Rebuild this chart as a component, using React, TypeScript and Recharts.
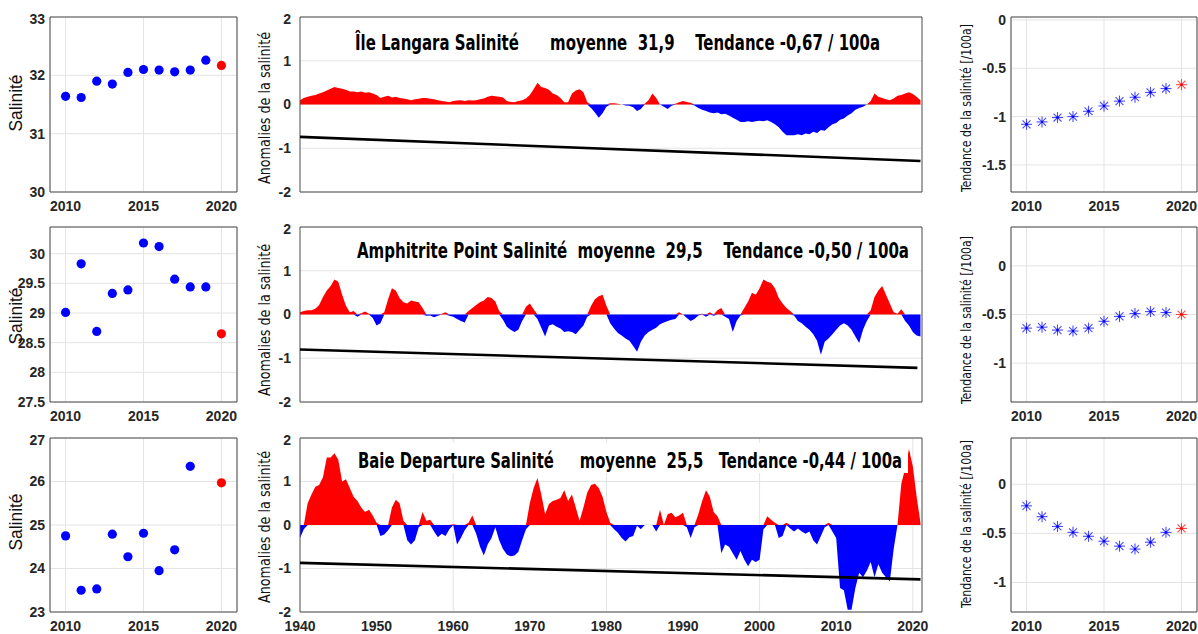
import React from 'react';
import {
  ComposedChart, ScatterChart, Scatter, Area, Line, XAxis, YAxis,
  CartesianGrid, ReferenceArea,
} from 'recharts';

// stations, top to bottom
const stationNames = ['Île Langara', 'Amphitrite Point', 'Baie Departure'];
const stationMeans = ['31,9', '29,5', '25,5'];
const stationTrends = ['-0,67', '-0,50', '-0,44'];

// annual values 2010-2019 (blue) + 2020 (red)
const annualYears = [2010, 2011, 2012, 2013, 2014, 2015, 2016, 2017, 2018, 2019];
const latestYear = 2020;

const langaraSalinity = [31.64, 31.62, 31.9, 31.85, 32.05, 32.1, 32.09, 32.06, 32.09, 32.26];
const langaraSalinity2020 = 32.17;
const amphitriteSalinity = [29.01, 29.83, 28.69, 29.33, 29.39, 30.18, 30.12, 29.57, 29.44, 29.44];
const amphitriteSalinity2020 = 28.65;
const departureSalinity = [24.75, 23.5, 23.53, 24.79, 24.27, 24.81, 23.95, 24.43, 26.35, null];
const departureSalinity2020 = 25.97;

const langaraTrend = [-1.08, -1.055, -1.01, -1.0, -0.945, -0.89, -0.84, -0.8, -0.75, -0.71];
const langaraTrend2020 = -0.67;
const amphitriteTrend = [-0.64, -0.63, -0.66, -0.67, -0.64, -0.57, -0.52, -0.49, -0.47, -0.48];
const amphitriteTrend2020 = -0.5;
const departureTrend = [-0.22, -0.33, -0.43, -0.49, -0.53, -0.58, -0.63, -0.66, -0.59, -0.49];
const departureTrend2020 = -0.45;

// anomalies, half-year samples starting 1940.0
const anomalyStart = 1940;
const anomalyStep = 0.5;

const langaraAnomaly = [
  0.10, 0.15, 0.18, 0.20, 0.22, 0.25, 0.28, 0.32, 0.36, 0.40,
  0.38, 0.36, 0.34, 0.30, 0.30, 0.28, 0.30, 0.27, 0.28, 0.25,
  0.22, 0.15, 0.18, 0.20, 0.16, 0.18, 0.15, 0.14, 0.12, 0.10,
  0.12, 0.13, 0.15, 0.15, 0.13, 0.12, 0.10, 0.08, 0.07, 0.05,
  0.08, 0.09, 0.10, 0.08, 0.10, 0.09, 0.10, 0.12, 0.14, 0.18,
  0.20, 0.19, 0.18, 0.16, 0.08, 0.06, 0.05, 0.08, 0.10, 0.14,
  0.22, 0.35, 0.50, 0.40, 0.38, 0.34, 0.25, 0.22, 0.15, 0.05,
  0.05, 0.25, 0.32, 0.35, 0.28, 0.05, -0.08, -0.18, -0.30, -0.20,
  -0.05, 0.03, 0.03, 0.02, 0.00, -0.02, -0.03, -0.06, -0.15, -0.10,
  0.02, 0.10, 0.25, 0.15, 0.00, -0.05, -0.10, -0.03, 0.02, 0.05,
  0.08, 0.06, 0.04, -0.02, -0.08, -0.12, -0.15, -0.18, -0.20, -0.18,
  -0.22, -0.21, -0.25, -0.30, -0.35, -0.40, -0.40, -0.38, -0.40, -0.38,
  -0.37, -0.38, -0.36, -0.40, -0.45, -0.52, -0.62, -0.70, -0.70, -0.70,
  -0.68, -0.70, -0.66, -0.68, -0.62, -0.65, -0.58, -0.60, -0.52, -0.45,
  -0.42, -0.35, -0.32, -0.25, -0.20, -0.12, -0.08, -0.05, 0.00, 0.08,
  0.25, 0.18, 0.15, 0.12, 0.10, 0.14, 0.20, 0.22, 0.25, 0.28,
  0.24, 0.18, 0.10,
];

const amphitriteAnomaly = [
  0.05, 0.08, 0.10, 0.10, 0.13, 0.22, 0.40, 0.55, 0.65, 0.80,
  0.75, 0.45, 0.20, 0.05, 0.08, -0.05, 0.03, 0.07, 0.02, -0.08,
  -0.25, -0.20, 0.05, 0.35, 0.60, 0.55, 0.38, 0.28, 0.25, 0.32,
  0.30, 0.28, 0.15, -0.03, -0.02, -0.06, -0.03, 0.02, 0.05, -0.03,
  -0.05, -0.10, -0.15, -0.18, 0.08, 0.15, 0.22, 0.28, 0.32, 0.40,
  0.38, 0.30, 0.08, -0.12, -0.28, -0.35, -0.40, -0.35, -0.15, 0.18,
  0.25, 0.12, -0.10, -0.30, -0.50, -0.25, -0.22, -0.28, -0.32, -0.40,
  -0.38, -0.40, -0.45, -0.35, -0.25, -0.05, 0.20, 0.35, 0.42, 0.45,
  0.20, -0.20, -0.32, -0.42, -0.48, -0.55, -0.60, -0.72, -0.85, -0.62,
  -0.48, -0.40, -0.35, -0.30, -0.22, -0.18, -0.15, -0.12, -0.10, 0.05,
  0.00, -0.08, -0.15, -0.10, -0.02, 0.02, -0.05, 0.05, -0.03, 0.10,
  0.15, -0.05, -0.10, -0.40, -0.15, -0.02, 0.15, 0.30, 0.50, 0.45,
  0.60, 0.80, 0.75, 0.72, 0.60, 0.38, 0.25, 0.15, 0.08, -0.02,
  -0.15, -0.20, -0.28, -0.35, -0.45, -0.60, -0.92, -0.62, -0.55, -0.45,
  -0.35, -0.25, -0.20, -0.25, -0.35, -0.50, -0.65, -0.35, -0.15, 0.10,
  0.40, 0.55, 0.65, 0.45, 0.25, 0.05, 0.02, 0.12, -0.15, -0.25,
  -0.40, -0.48, -0.50,
];

const departureAnomaly = [
  -0.30, -0.10, 0.50, 0.70, 0.88, 0.92, 1.10, 1.55, 1.55, 1.65,
  1.50, 1.00, 1.05, 0.85, 0.65, 0.55, 0.40, 0.30, 0.35, 0.22,
  0.05, -0.25, -0.22, -0.12, 0.40, 0.58, 0.50, 0.10, -0.35, -0.45,
  -0.35, -0.05, 0.30, 0.10, 0.12, -0.15, -0.28, -0.20, -0.25, -0.10,
  0.02, -0.45, -0.30, -0.12, 0.05, 0.22, -0.20, -0.50, -0.70, -0.45,
  -0.30, -0.05, -0.35, -0.55, -0.68, -0.72, -0.70, -0.62, -0.35, -0.10,
  0.50, 0.85, 1.08, 0.70, 0.25, 0.48, 0.55, 0.58, 0.62, 0.80,
  0.55, 0.70, 0.40, 0.10, 0.40, 0.75, 0.92, 0.95, 0.85, 0.65,
  0.30, 0.05, -0.10, -0.18, -0.30, -0.38, -0.28, -0.25, -0.02, -0.10,
  0.00, 0.00, 0.00, -0.15, 0.35, 0.00, 0.25, 0.28, 0.18, 0.22,
  0.28, -0.05, -0.30, -0.05, 0.25, 0.55, 0.80, 0.65, 0.30, 0.20,
  -0.65, -0.45, -0.50, -0.65, -0.80, -0.60, -0.80, -0.95, -0.80, -0.85,
  -0.80, -0.10, 0.20, 0.12, 0.05, -0.30, -0.25, 0.05, -0.08, -0.15,
  -0.08, -0.15, -0.20, -0.15, -0.35, -0.45, -0.25, -0.05, 0.05, -0.15,
  -0.30, -1.45, -1.50, -1.95, -1.95, -1.45, -1.10, -1.20, -1.05, -0.85,
  -1.20, -0.90, -1.10, -1.20, -1.30, -0.55, 0.00, 0.95, 1.30, 1.75,
  1.35, 0.65, 0.05,
];

// linear trend lines (start / end)
const langaraTrendLine = [-0.74, -1.29];
const langaraTrendYears = [1940, 2021];
const amphitriteTrendLine = [-0.8, -1.22];
const amphitriteTrendYears = [1940, 2020.6];
const departureTrendLine = [-0.87, -1.25];
const departureTrendYears = [1940, 2021];

const decadeTicks = [1940, 1950, 1960, 1970, 1980, 1990, 2000, 2010, 2020];
const twentyYearTicks = [1940, 1960, 1980, 2000, 2020];
const anomalyDomain = [1940, 2021.2];

// ---- styling / layout ----
const PAD_L = 50;
const PAD_T = 6;
const PAD_B = 26;
const GRID = '#e4e4e4';
const BOX = '#4a4a4a';
const TICK = { fontSize: 14, fontWeight: 700, fill: '#262626', fontFamily: "'Liberation Sans', Arial, sans-serif" };
const NARROW = "'Liberation Sans Narrow', 'DejaVu Sans Condensed', 'Liberation Sans', sans-serif";

const rowTops = [17, 227, 438];
const rowHeights = [175, 175, 174];

const toPoints = (vals: (number | null)[]) =>
  annualYears.map((year, i) => ({ year, value: vals[i] })).filter(p => p.value !== null);

const toAnomaly = (vals: number[]) =>
  vals.map((v, i) => ({ year: anomalyStart + i * anomalyStep, pos: v > 0 ? v : 0, neg: v < 0 ? v : 0 }));

const toLine = (years: number[], vals: number[]) => years.map((year, i) => ({ year, value: vals[i] }));

const dot = (color: string) => (p: any) => <circle cx={p.cx} cy={p.cy} r={4.6} fill={color} />;

const star = (color: string) => (p: any) => {
  const r = 5.5;
  const d = r * 0.72;
  const { cx, cy } = p;
  return (
    <g stroke={color} strokeWidth={1.1} strokeOpacity={0.7}>
      <line x1={cx - r} y1={cy} x2={cx + r} y2={cy} />
      <line x1={cx} y1={cy - r} x2={cx} y2={cy + r} />
      <line x1={cx - d} y1={cy - d} x2={cx + d} y2={cy + d} />
      <line x1={cx - d} y1={cy + d} x2={cx + d} y2={cy - d} />
      <circle cx={cx} cy={cy} r={1.2} fill={color} stroke="none" />
    </g>
  );
};

function AnnualPanel({ x, y, w, h, points, latest, domain, ticks, shape }: any) {
  const padR = 4;
  return (
    <div style={{ position: 'absolute', left: x - PAD_L, top: y - PAD_T }}>
      <ScatterChart width={w + PAD_L + padR} height={h + PAD_T + PAD_B}
        margin={{ top: PAD_T, right: padR, bottom: 0, left: 0 }}>
        <CartesianGrid stroke={GRID} />
        <XAxis type="number" dataKey="year" domain={[2009, 2021]} ticks={[2010, 2015, 2020]}
          height={PAD_B} tickSize={0} tickMargin={9} axisLine={false} tickLine={false} tick={TICK} />
        <YAxis type="number" dataKey="value" domain={domain} ticks={ticks} width={PAD_L}
          tickSize={0} tickMargin={5} axisLine={false} tickLine={false} tick={TICK} />
        <ReferenceArea x1={2009} x2={2021} y1={domain[0]} y2={domain[1]} fill="none" stroke={BOX} />
        <Scatter data={points} shape={shape('#0000ff')} isAnimationActive={false} />
        <Scatter data={latest} shape={shape('#ff0000')} isAnimationActive={false} />
      </ScatterChart>
    </div>
  );
}

function AnomalyPanel({ x, y, w, h, data, trend, labelled }: any) {
  const padR = 20;
  return (
    <div style={{ position: 'absolute', left: x - PAD_L, top: y - PAD_T }}>
      <ComposedChart data={data} width={w + PAD_L + padR} height={h + PAD_T + PAD_B}
        margin={{ top: PAD_T, right: padR, bottom: 0, left: 0 }}>
        <CartesianGrid stroke={GRID} verticalValues={[1960, 1980, 2000, 2020]} />
        <XAxis type="number" dataKey="year" domain={anomalyDomain}
          ticks={labelled ? decadeTicks : twentyYearTicks} tick={labelled ? TICK : false}
          height={PAD_B} tickSize={0} tickMargin={9} axisLine={false} tickLine={false} />
        <YAxis type="number" domain={[-2, 2]} ticks={[-2, -1, 0, 1, 2]} width={PAD_L}
          tickSize={0} tickMargin={9} axisLine={false} tickLine={false} tick={TICK} />
        <Area type="linear" dataKey="pos" fill="#ff0000" fillOpacity={1} stroke="none"
          baseValue={0} isAnimationActive={false} />
        <Area type="linear" dataKey="neg" fill="#0000ff" fillOpacity={1} stroke="none"
          baseValue={0} isAnimationActive={false} />
        <Line data={trend} dataKey="value" stroke="#000" strokeWidth={2.6} dot={false}
          isAnimationActive={false} />
        <ReferenceArea x1={anomalyDomain[0]} x2={anomalyDomain[1]} y1={-2} y2={2} fill="none" stroke={BOX} />
      </ComposedChart>
    </div>
  );
}

const rows = [
  {
    salinity: toPoints(langaraSalinity), salinity2020: [{ year: latestYear, value: langaraSalinity2020 }],
    salDomain: [30, 33], salTicks: [30, 31, 32, 33],
    anomaly: toAnomaly(langaraAnomaly), trendLine: toLine(langaraTrendYears, langaraTrendLine),
    trend: toPoints(langaraTrend), trend2020: [{ year: latestYear, value: langaraTrend2020 }],
    trDomain: [-1.78, 0.03], trTicks: [-1.5, -1, -0.5, 0],
  },
  {
    salinity: toPoints(amphitriteSalinity), salinity2020: [{ year: latestYear, value: amphitriteSalinity2020 }],
    salDomain: [27.5, 30.45], salTicks: [27.5, 28, 28.5, 29, 29.5, 30],
    anomaly: toAnomaly(amphitriteAnomaly), trendLine: toLine(amphitriteTrendYears, amphitriteTrendLine),
    trend: toPoints(amphitriteTrend), trend2020: [{ year: latestYear, value: amphitriteTrend2020 }],
    trDomain: [-1.4, 0.4], trTicks: [-1, -0.5, 0],
  },
  {
    salinity: toPoints(departureSalinity), salinity2020: [{ year: latestYear, value: departureSalinity2020 }],
    salDomain: [23, 27], salTicks: [23, 24, 25, 26, 27],
    anomaly: toAnomaly(departureAnomaly), trendLine: toLine(departureTrendYears, departureTrendLine),
    trend: toPoints(departureTrend), trend2020: [{ year: latestYear, value: departureTrend2020 }],
    trDomain: [-1.3, 0.47], trTicks: [-1, -0.5, 0],
  },
];

// title boxes, title start x / length, gaps (in spaces) between the three parts
const titleBoxes = [[350, 25, 535, 30], [353, 237, 558, 28], [353, 443, 555, 30]];
const titleBaselines = [50, 258, 468];
const titleSpans = [[355, 525], [357, 552], [358, 544]];
const titleGaps = [[6, 4], [2, 4], [5, 3]];
const labelCenters = [
  [103, 108, 108],
  [316, 320, 320],
  [522, 527, 524],
];

function VText({ x, y, len, size, family, children }: any) {
  return (
    <text transform={`translate(${x},${y}) rotate(-90)`} textAnchor="middle" dy="0.35em"
      fontSize={size} fontFamily={family} fill="#111" textLength={len} lengthAdjust="spacingAndGlyphs">
      {children}
    </text>
  );
}

export default function App() {
  return (
    <div style={{
      position: 'absolute', left: 0, top: 0, width: 1198, height: 634, overflow: 'hidden',
      background: '#fff', fontFamily: "'Liberation Sans', Arial, sans-serif",
    }}>
      {rows.map((r, i) => (
        <React.Fragment key={i}>
          <AnnualPanel x={50} y={rowTops[i]} w={187} h={rowHeights[i]} points={r.salinity}
            latest={r.salinity2020} domain={r.salDomain} ticks={r.salTicks} shape={dot} />
          <AnomalyPanel x={300} y={rowTops[i]} w={622} h={rowHeights[i]} data={r.anomaly}
            trend={r.trendLine} labelled={i === 2} />
          <AnnualPanel x={1011} y={rowTops[i]} w={186} h={rowHeights[i]} points={r.trend}
            latest={r.trend2020} domain={r.trDomain} ticks={r.trTicks} shape={star} />
        </React.Fragment>
      ))}
      <svg width={1198} height={634} style={{ position: 'absolute', left: 0, top: 0, pointerEvents: 'none' }}>
        {rows.map((_, i) => {
          const [bx, by, bw, bh] = titleBoxes[i];
          const [tx, tlen] = titleSpans[i];
          const [g1, g2] = titleGaps[i];
          const title = `${stationNames[i]} Salinité${' '.repeat(g1)}moyenne  ${stationMeans[i]}${' '.repeat(g2)}Tendance ${stationTrends[i]} / 100a`;
          return (
            <g key={i}>
              <rect x={bx} y={by} width={bw} height={bh} fill="#fff" />
              <text x={tx} y={titleBaselines[i]} fontSize={21} fontWeight={700} fontFamily={NARROW}
                fill="#000" textLength={tlen} lengthAdjust="spacingAndGlyphs" xmlSpace="preserve"
                style={{ whiteSpace: 'pre' }}>
                {title}
              </text>
              <VText x={16} y={labelCenters[i][0]} len={57} size={18}
                family="'Liberation Sans', Arial, sans-serif">Salinité</VText>
              <VText x={264} y={labelCenters[i][1]} len={152} size={16} family={NARROW}>
                Anomalies de la salinité
              </VText>
              <VText x={966} y={labelCenters[i][2]} len={168} size={14} family={NARROW}>
                Tendance de la salinité [/100a]
              </VText>
            </g>
          );
        })}
      </svg>
    </div>
  );
}
